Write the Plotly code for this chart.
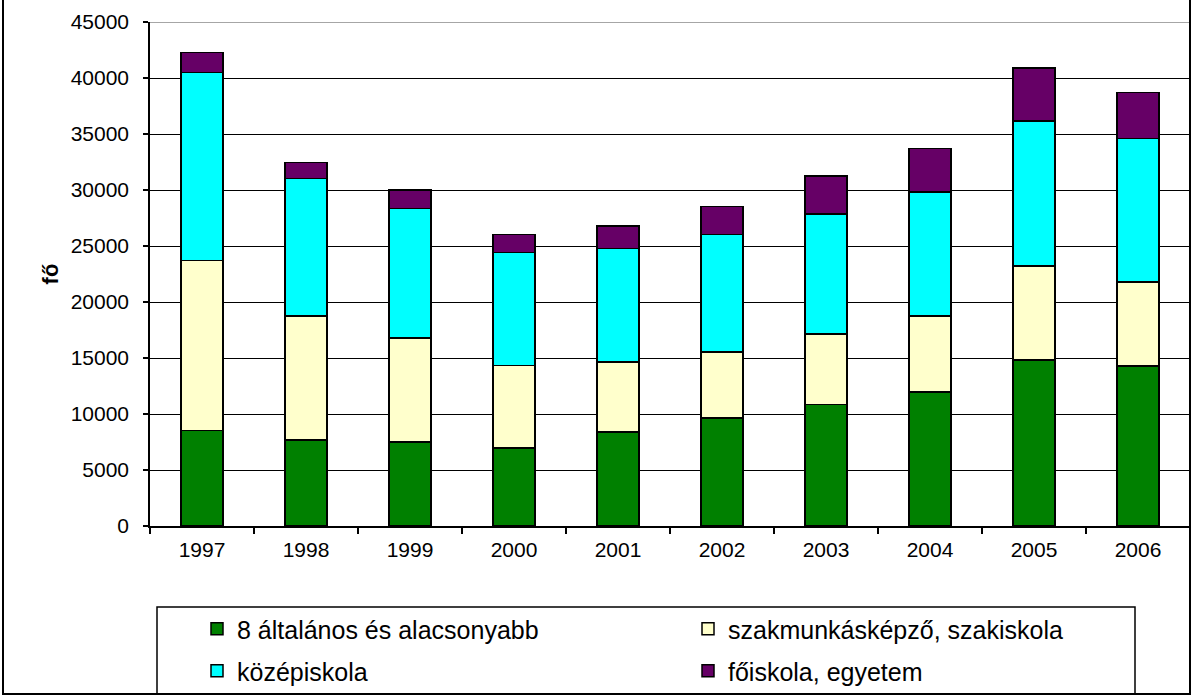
import plotly.graph_objects as go

years = ["1997", "1998", "1999", "2000", "2001", "2002", "2003", "2004", "2005", "2006"]
alt8 = [8540, 7680, 7490, 6980, 8380, 9660, 10870, 11980, 14820, 14280]
szakmunkas = [15170, 11060, 9300, 7330, 6280, 5860, 6270, 6790, 8410, 7520]
kozep = [16760, 12300, 11570, 10100, 10100, 10520, 10710, 11030, 12940, 12810]
foiskola = [1820, 1430, 1630, 1630, 2010, 2480, 3380, 3920, 4720, 4110]

names = ["8 általános és alacsonyabb", "szakmunkásképző, szakiskola", "középiskola", "főiskola, egyetem"]
colors = ["#008000", "#FFFFCC", "#00FFFF", "#660066"]
series = [alt8, szakmunkas, kozep, foiskola]
legends = ["legend", "legend", "legend2", "legend2"]

W, H = 1192, 697
L, R, T, B = 150, 2, 22, 697 - 526
pw, ph = W - L - R, H - T - B

def px2x(px):
    return (px - L) / pw

def py2y(py):
    return (H - B - py) / ph

fig = go.Figure()
for n, c, s, lg in zip(names, colors, series, legends):
    fig.add_trace(go.Bar(x=years, y=s, name=n, legend=lg,
                         marker=dict(color=c, line=dict(color="black", width=1.5))))

legfont = dict(family="Liberation Sans, Arial", size=25, color="black")
fig.update_layout(
    width=W, height=H,
    margin=dict(l=L, r=R, t=T, b=B, autoexpand=False),
    barmode="stack", bargap=0.6,
    paper_bgcolor="white", plot_bgcolor="white",
    font=dict(family="Liberation Sans, Arial", size=21, color="black"),
    xaxis=dict(showline=True, linecolor="black", linewidth=1.5, ticks="outside",
               tickson="boundaries", ticklen=6, tickcolor="black", tickwidth=1.5,
               tickfont=dict(size=21), showgrid=False, ticklabelstandoff=4),
    yaxis=dict(range=[0, 45000], dtick=5000, showline=True, linecolor="black", linewidth=1.5,
               ticks="outside", ticklen=5, tickcolor="black", tickwidth=1.5,
               showgrid=True, gridcolor="black", gridwidth=1, tickformat="d",
               tickfont=dict(size=21), ticklabelstandoff=10,
               title=dict(text="<b>fő</b>", font=dict(size=22), standoff=6)),
    legend=dict(orientation="h", x=px2x(197), y=py2y(606), xanchor="left", yanchor="top",
                entrywidth=446, entrywidthmode="pixels", font=legfont,
                traceorder="normal", bgcolor="rgba(0,0,0,0)"),
    legend2=dict(orientation="h", x=px2x(197), y=py2y(648), xanchor="left", yanchor="top",
                 entrywidth=446, entrywidthmode="pixels", font=legfont,
                 traceorder="normal", bgcolor="rgba(0,0,0,0)"),
    showlegend=True,
    shapes=[
        dict(type="line", xref="paper", yref="y", x0=0, x1=1, y0=45000, y1=45000,
             line=dict(color="#888888", width=1.5)),
        dict(type="rect", xref="paper", yref="paper", x0=px2x(157), x1=px2x(1135),
             y0=py2y(607), y1=py2y(694), line=dict(color="black", width=1.5)),
        dict(type="rect", xref="paper", yref="paper", x0=px2x(3), x1=px2x(1190),
             y0=py2y(-10), y1=py2y(694), line=dict(color="black", width=2)),
    ],
)
fig.write_html("out.html", config={"displayModeBar": False},
               post_script="document.body.style.margin='0';document.body.style.overflow='hidden';")
